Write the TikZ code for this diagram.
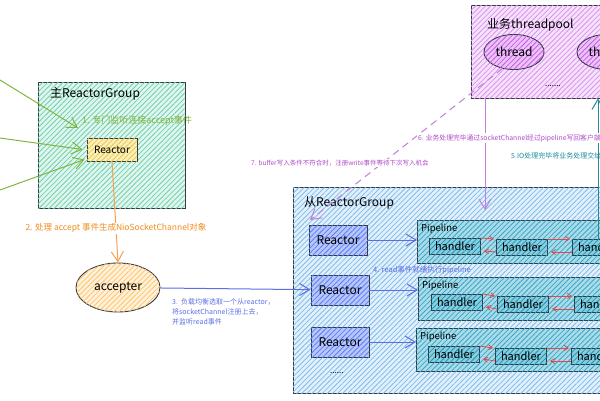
\documentclass[tikz,border=0pt]{standalone}
\usepackage{fontspec}
\setmainfont{Noto Sans CJK SC}
\usepackage{xcolor}
\usepackage{tikz}
\usetikzlibrary{arrows.meta,patterns.meta,shapes.geometric}

\definecolor{ink}{HTML}{343A40}
\definecolor{mintfill}{HTML}{E0F6EE}
\definecolor{mintline}{HTML}{6FD0AE}
\definecolor{yellowfill}{HTML}{FBF0B8}
\definecolor{yellowline}{HTML}{E8C651}
\definecolor{orangefill}{HTML}{FFF1DA}
\definecolor{orangeline}{HTML}{FFC46E}
\definecolor{skyfill}{HTML}{E3F0FC}
\definecolor{skyline}{HTML}{7DBDEC}
\definecolor{bluefill}{HTML}{B8C7F9}
\definecolor{blueline}{HTML}{5C7CFA}
\definecolor{cyanfill}{HTML}{A9DCEA}
\definecolor{cyanline}{HTML}{3AA5C5}
\definecolor{handfill}{HTML}{86CFE2}
\definecolor{handline}{HTML}{2591B0}
\definecolor{lilacfill}{HTML}{F6E2FB}
\definecolor{lilacline}{HTML}{DA92F0}
\definecolor{threadfill}{HTML}{EDC2F9}
\definecolor{threadline}{HTML}{C35DE0}
\definecolor{arrowgreen}{HTML}{82B540}
\definecolor{arroworange}{HTML}{F7A04F}
\definecolor{textorange}{HTML}{F08C1E}
\definecolor{arrowblue}{HTML}{5B6FE3}
\definecolor{arrowpurple}{HTML}{C47DDC}
\definecolor{textpurple}{HTML}{B04CC8}
\definecolor{arrowteal}{HTML}{1C8C9C}
\definecolor{arrowred}{HTML}{E0484A}

\begin{document}
\begin{tikzpicture}[x=1pt, y=-1pt,
    box/.style={draw=ink, line width=0.9pt, inner sep=0pt},
    hatch/.style 2 args={fill=#1, postaction={pattern={Lines[angle=45, distance=3.6pt, line width=0.8pt]}, pattern color=#2}},
    grouptitle/.style={anchor=west, inner sep=0pt, font=\fontsize{12}{12}\selectfont},
    note/.style={anchor=west, inner sep=0pt, font=\fontsize{#1}{#1}\selectfont},
    sreactor/.style={box, hatch={bluefill}{blueline}, minimum width=58, minimum height=30, font=\fontsize{12}{12}\selectfont},
    pipe/.style={box, hatch={cyanfill}{cyanline}, anchor=north west, minimum width=223, minimum height=43},
    handler/.style={box, hatch={handfill}{handline}, minimum width=51, minimum height=16, font=\fontsize{11}{11}\selectfont},
    arr/.style={-{Straight Barb[length=10pt,width=12pt]}, line width=1pt},
    redarr/.style={-{Straight Barb[length=4pt,width=5pt]}, draw=arrowred, line width=0.8pt},
]
    \useasboundingbox (0,0) rectangle (600,400);
    \clip (0,0) rectangle (600,400);

    % Nodes
    \node[box, hatch={mintfill}{mintline}, minimum width=147, minimum height=126] (mgroup) at (111.5,145) {};
    \node[grouptitle] (mtitle) at (50,94) {主ReactorGroup};
    \node[box, hatch={yellowfill}{yellowline}, minimum width=50, minimum height=23, font=\fontsize{10}{10}\selectfont] (mreactor) at (112,149.5) {Reactor};
    \node[box, ellipse, hatch={orangefill}{orangeline}, minimum width=84, minimum height=49, font=\fontsize{12}{12}\selectfont] (accepter) at (118,287.5) {accepter};

    \node[box, hatch={skyfill}{skyline}, minimum width=347, minimum height=206] (sgroup) at (466.5,290) {};
    \node[grouptitle] (stitle) at (304,203) {从ReactorGroup};
    \node[sreactor] (sr1) at (338,240) {Reactor};
    \node[sreactor] (sr2) at (340,290) {Reactor};
    \node[sreactor] (sr3) at (340,342) {Reactor};
    \node[note=8] (sdots) at (330,373) {......};

    \node[pipe] (p1) at (417,220) {};
    \node[pipe] (p2) at (418,277) {};
    \node[pipe] (p3) at (416,328) {};
    \node[note=9.5] (pt1) at (421,229) {Pipeline};
    \node[note=9.5] (pt2) at (422,286) {Pipeline};
    \node[note=9.5] (pt3) at (420,337) {Pipeline};

    \node[handler] (h11) at (455,246) {handler};
    \node[handler] (h12) at (522,247) {handler};
    \node[handler] (h13) at (598,247) {handler};
    \node[handler] (h21) at (457,302) {handler};
    \node[handler] (h22) at (523,304) {handler};
    \node[handler] (h23) at (600,304) {handler};
    \node[handler] (h31) at (454,354) {handler};
    \node[handler] (h32) at (521,356) {handler};
    \node[handler] (h33) at (597,356) {handler};

    \node[box, hatch={lilacfill}{lilacline}, minimum width=169, minimum height=93] (pool) at (555.5,51.5) {};
    \node[grouptitle] (ptitle) at (487,25) {业务threadpool};
    \node[box, ellipse, hatch={threadfill}{threadline}, minimum width=60, minimum height=35, font=\fontsize{12}{12}\selectfont] (thread1) at (514,52) {thread};
    \node[box, ellipse, hatch={threadfill}{threadline}, minimum width=60, minimum height=35, font=\fontsize{12}{12}\selectfont] (thread2) at (607,52) {thread};
    \node[note=8] (pdots) at (545,86) {.......};

    \coordinate (g1) at (0,80);
    \coordinate (g2) at (0,138);
    \coordinate (g3) at (0,190);
    \coordinate (gend1) at (78,128);
    \coordinate (c6) at (485,210);
    \coordinate (c7) at (310,220);

    % Edges
    \draw[arr, arrowgreen] (g1) -- (gend1);
    \draw[arr, arrowgreen] (g2) -- ([xshift=-4pt]mreactor.west);
    \draw[arr, arrowgreen] (g3) -- ([xshift=-2pt,yshift=2pt]mreactor.south west);
    \draw[arr, arroworange] (mreactor.south) -- (accepter.north)
        node[pos=0.66, fill=white, inner sep=1pt, text=textorange, font=\fontsize{8.5}{8.5}\selectfont] (l2) {2. 处理 accept 事件生成NioSocketChannel对象};
    \draw[arr, arrowblue] (accepter) -- (sr2);
    \draw[arr, arrowblue] (sr1.east) -- (sr1.east -| p1.west);
    \draw[arr, arrowblue] (sr2.east) -- (sr2.east -| p2.west);
    \draw[arr, arrowblue] (sr3.east) -- (sr3.east -| p3.west);

    \draw[redarr] ([yshift=8pt]h11.east) -- ([xshift=-2pt,yshift=8pt]h12.west);
    \draw[redarr] ([yshift=-5pt]h12.west) -- ([xshift=3pt,yshift=-5pt]h11.east);
    \draw[redarr] ([yshift=8pt]h12.east) -- ([xshift=-2pt,yshift=8pt]h13.west);
    \draw[redarr] ([yshift=-5pt]h13.west) -- ([xshift=3pt,yshift=-5pt]h12.east);
    \draw[redarr] ([yshift=8pt]h21.east) -- ([xshift=-2pt,yshift=8pt]h22.west);
    \draw[redarr] ([yshift=-5pt]h22.west) -- ([xshift=3pt,yshift=-5pt]h21.east);
    \draw[redarr] ([yshift=8pt]h22.east) -- ([xshift=-2pt,yshift=8pt]h23.west);
    \draw[redarr] ([yshift=-5pt]h23.west) -- ([xshift=3pt,yshift=-5pt]h22.east);
    \draw[redarr] ([yshift=8pt]h31.east) -- ([xshift=-2pt,yshift=8pt]h32.west);
    \draw[redarr] ([yshift=-5pt]h32.west) -- ([xshift=3pt,yshift=-5pt]h31.east);
    \draw[redarr] ([yshift=8pt]h32.east) -- ([xshift=-2pt,yshift=8pt]h33.west);
    \draw[redarr] ([yshift=-5pt]h33.west) -- ([xshift=3pt,yshift=-5pt]h32.east);

    \draw[arr, arrowpurple, dash pattern=on 7pt off 5pt] (thread1.235) -- (c7);
    \draw[arr, arrowpurple] (c6 |- pool.south) -- (c6);
    \draw[arr, arrowteal] (h13.north) -- (h13.north |- pool.south);

    % Labels
    \node[note=9, text=arrowgreen] (l1) at (82,121) {1. 专门监听连接accept事件};
    \node[note=7, text=arrowblue, anchor=north west, align=left, font=\fontsize{7}{10}\selectfont] (l3) at (172,298) {3.\ \ 负载均衡选取一个从reactor，\\将socketChannel注册上去，\\并监听read事件};
    \node[note=7.5, text=arrowblue] (l4) at (373,270) {4. read事件就绪执行pipeline};
    \node[note=7, text=arrowteal] (l5) at (511,156) {5.IO处理完毕将业务处理交给};
    \node[note=6.8, text=textpurple, fill=white, inner sep=1pt] (l6) at (417,138) {6. 业务处理完毕通过socketChannel经过pipeline写回客户端};
    \node[note=6.5, text=textpurple, fill=white, inner sep=1pt] (l7) at (250,163) {7. buffer写入条件不符合时，注册write事件等待下次写入机会};
\end{tikzpicture}
\end{document}
